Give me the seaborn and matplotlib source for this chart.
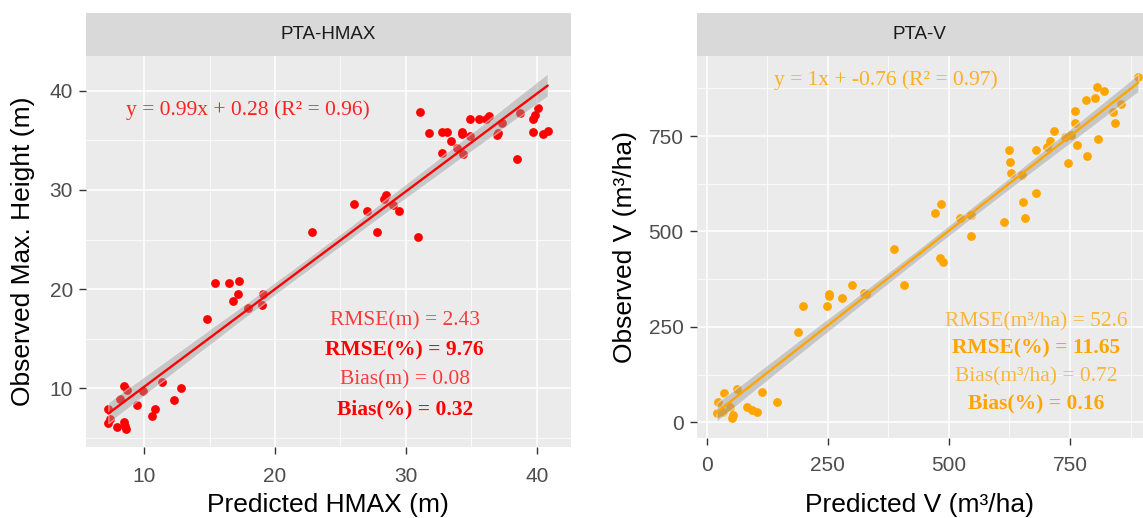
import matplotlib
matplotlib.use("Agg")
import matplotlib.pyplot as plt
from matplotlib.ticker import MultipleLocator
import pandas as pd
import seaborn as sns

# PTA-HMAX: predicted vs observed maximum height (m)
hmax_pred = [7.25, 7.25, 7.38, 7.89, 8.14, 8.47, 8.52, 8.6, 8.48, 8.65, 9.42, 9.9,
             10.57, 10.82, 11.38, 12.3, 12.78, 14.82, 15.4, 16.45, 17.26, 17.16,
             16.76, 17.95, 19.05, 19.02, 22.8, 26.0, 27.0, 27.8, 28.3, 28.5, 29.0,
             29.5, 30.9, 31.08, 31.79, 32.74, 33.12, 33.45, 32.74, 34.27, 34.27,
             33.88, 34.39, 34.9, 35.61, 36.38, 36.12, 34.9, 37.06, 36.98, 37.32,
             38.47, 38.72, 40.12, 39.87, 39.74, 39.69, 40.46, 40.84]
hmax_obs = [7.95, 6.47, 6.87, 6.1, 8.9, 6.6, 6.2, 5.87, 10.25, 9.8, 8.29, 9.7,
            7.2, 7.88, 10.6, 8.82, 10.07, 16.96, 20.6, 20.6, 20.8, 19.5,
            18.8, 18.1, 19.54, 18.4, 25.8, 28.6, 27.9, 25.8, 29.1, 29.5, 28.5,
            27.9, 25.3, 37.9, 35.78, 35.88, 35.88, 34.93, 33.76, 35.88, 35.6,
            34.26, 33.59, 37.19, 37.19, 37.45, 37.12, 35.43, 35.78, 35.5, 36.78,
            33.15, 37.8, 38.3, 37.52, 37.12, 35.88, 35.6, 35.94]

# PTA-V: predicted vs observed volume (m3/ha)
vol_pred = [20.6, 24, 34.3, 35.7, 48, 51.6, 55, 61.9, 82.6, 92.9, 104.5, 113.5,
            144.5, 188, 198, 249, 252, 252, 280, 301, 324, 328, 386, 408, 472,
            484, 482, 487, 523, 546, 546, 613, 657, 654, 680, 650, 628, 626, 625,
            680, 702, 709, 716, 746, 740, 753, 764, 786, 808, 760, 760, 783, 802,
            805, 820, 839, 855, 843, 891]
vol_obs = [23.6, 54, 27.8, 76, 41, 10.5, 19, 86.5, 41, 32, 27.8, 80,
           54, 237, 304, 304, 336, 330, 326, 359, 339, 335, 454, 359, 549,
           572, 431, 420, 534, 544, 488, 525, 534, 577, 601, 648, 652, 683, 713,
           713, 720, 738, 764, 680, 748, 753, 726, 698, 741, 785, 816, 844, 849,
           879, 869, 814, 834, 783, 904]

panels = [
    {"pred": hmax_pred, "obs": hmax_obs, "color": "#FF0000", "strip": "PTA-HMAX",
     "xlabel": "Predicted HMAX (m)", "ylabel": "Observed Max. Height (m)",
     "eq": "y = 0.99x + 0.28 (R² = 0.96)", "eq_xy": (17.9, 38.05),
     "stats": ["RMSE(m) = 2.43", "RMSE(%) = 9.76", "Bias(m) = 0.08", "Bias(%) = 0.32"],
     "stats_x": 29.9, "stats_y": [16.8, 13.8, 10.9, 7.9],
     "xlim": (5.54, 42.6), "ylim": (4.11, 43.5), "major": 10, "minor": 5,
     "xpad": 9.5, "xlabelpad": 5, "ylabelpad": 10,
     "rect": [0.0752, 0.1376, 0.4241, 0.7542]},
    {"pred": vol_pred, "obs": vol_obs, "color": "#FFA500", "strip": "PTA-V",
     "xlabel": "Predicted V (m³/ha)", "ylabel": "Observed V (m³/ha)",
     "eq": "y = 1x + -0.76 (R² = 0.97)", "eq_xy": (370, 897),
     "stats": ["RMSE(m³/ha) = 52.6", "RMSE(%) = 11.65", "Bias(m³/ha) = 0.72", "Bias(%) = 0.16"],
     "stats_x": 681, "stats_y": [263.6, 193.9, 119.5, 49.8],
     "xlim": (-20.6, 900.7), "ylim": (-40.3, 959.6), "major": 250, "minor": 125,
     "xpad": 8, "xlabelpad": 13, "ylabelpad": 8.5,
     "rect": [0.6095, 0.155, 0.3905, 0.7369]},
]

sns.set_style("darkgrid", {"axes.facecolor": "#EBEBEB", "grid.color": "white"})
plt.rcParams["font.family"] = ["Liberation Sans", "DejaVu Sans"]

fig = plt.figure(figsize=(11.43, 5.18), dpi=100)

for p in panels:
    df = pd.DataFrame({"pred": p["pred"], "obs": p["obs"]})
    ax = fig.add_axes(p["rect"])

    # points first, then the smoother band and line on top (ggplot order)
    sns.scatterplot(data=df, x="pred", y="obs", ax=ax, color=p["color"], s=40,
                    linewidth=0, zorder=2)
    sns.regplot(data=df, x="pred", y="obs", ax=ax, scatter=False, color="grey",
                seed=0, line_kws={"alpha": 0})
    band = ax.collections[-1]
    band.set_facecolor("#999999")
    band.set_alpha(0.45)
    band.set_zorder(3)
    sns.regplot(data=df, x="pred", y="obs", ax=ax, scatter=False, ci=None,
                color=p["color"], line_kws={"lw": 1.7, "zorder": 4})

    ax.set_xlim(p["xlim"])
    ax.set_ylim(p["ylim"])
    ax.xaxis.set_major_locator(MultipleLocator(p["major"]))
    ax.yaxis.set_major_locator(MultipleLocator(p["major"]))
    ax.xaxis.set_minor_locator(MultipleLocator(p["minor"]))
    ax.yaxis.set_minor_locator(MultipleLocator(p["minor"]))
    ax.grid(which="major", color="white", lw=1.1)
    ax.grid(which="minor", color="white", lw=0.55)
    for s in ax.spines.values():
        s.set_visible(False)
    ax.tick_params(which="major", length=5, width=1, color="#333333",
                   labelsize=15, labelcolor="#4D4D4D", bottom=True, left=True)
    ax.tick_params(axis="x", which="major", pad=p["xpad"])
    ax.tick_params(axis="y", which="major", pad=4.5)
    ax.tick_params(which="minor", length=0)
    ax.set_xlabel(p["xlabel"], fontsize=19, color="black", labelpad=p["xlabelpad"])
    ax.set_ylabel(p["ylabel"], fontsize=19, color="black", labelpad=p["ylabelpad"])

    serif = ["Liberation Serif", "DejaVu Serif"]
    ax.text(*p["eq_xy"], p["eq"], color=p["color"], alpha=0.85, fontsize=15.5,
            family=serif, ha="center", va="center", zorder=5)
    for i, (line, yy) in enumerate(zip(p["stats"], p["stats_y"])):
        bold = i % 2 == 1
        ax.text(p["stats_x"], yy, line, color=p["color"], alpha=1 if bold else 0.75,
                fontsize=15.5, family=serif, fontweight="bold" if bold else "normal",
                ha="center", va="center", zorder=5)

    # facet strip
    r = p["rect"]
    sax = fig.add_axes([r[0], 0.8919, r[2], 0.0836])
    sax.set_facecolor("#D9D9D9")
    sax.set_xticks([])
    sax.set_yticks([])
    sax.grid(False)
    for s in sax.spines.values():
        s.set_visible(False)
    sax.text(0.5, 0.5, p["strip"], ha="center", va="center", fontsize=13.5,
             color="#1A1A1A", transform=sax.transAxes)

fig.savefig("out.png", dpi=100, facecolor="white")
